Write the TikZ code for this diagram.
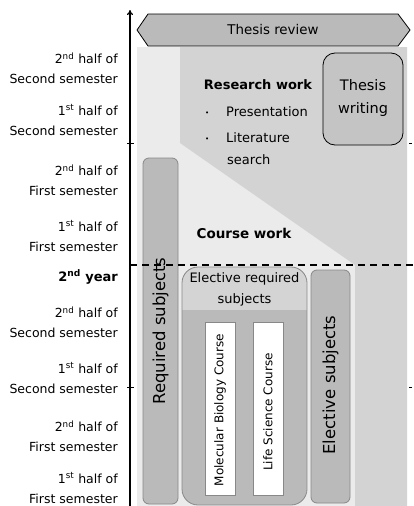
\documentclass[tikz,border=0pt]{standalone}
\usepackage{fontspec}
\setmainfont{DejaVu Sans}
\usetikzlibrary{arrows.meta}

\definecolor{bglight}{HTML}{EBEBEB}
\definecolor{bgmid}{HTML}{D3D3D3}
\definecolor{boxgray}{HTML}{BABABA}
\definecolor{boxedge}{HTML}{888888}
\definecolor{headgray}{HTML}{D4D4D4}
\definecolor{thesisgray}{HTML}{C4C4C4}

\newcommand{\itemdot}{\makebox[21pt][l]{\fontsize{7}{8}\selectfont\raisebox{1pt}{\textbullet}}}

\begin{document}
\begin{tikzpicture}[x=1pt,y=-1pt,
  lbl/.style={anchor=east,align=right,inner sep=0pt,font=\fontsize{12.5}{20}\selectfont},
  item/.style={anchor=west,inner sep=0pt,font=\fontsize{13}{16}\selectfont},
  subj/.style={draw=boxedge,fill=boxgray,line width=0.8pt,rounded corners=6pt},
  course/.style={draw=boxedge,fill=white,line width=0.8pt},
  vtext/.style={rotate=90,inner sep=0pt}]
\useasboundingbox (0,0) rectangle (414,506);
% background areas
\fill[bglight] (137,47) rectangle (407,506);
\fill[bgmid] (180,47) -- (407,47) -- (407,506) -- (355,506) -- (355,265) -- (180,143) -- cycle;
% thesis review banner
\draw[fill=boxgray,line width=0.8pt] (137,30) -- (148,14) -- (398,14) -- (410,30) -- (398,46) -- (148,46) -- cycle;
\node[font=\fontsize{13.4}{16}\selectfont] (review) at (273,30) {Thesis review};
% research work
\node[font=\bfseries\fontsize{13}{16}\selectfont] (research) at (258,85) {Research work};
\node[item] (pres) at (205,112) {\itemdot Presentation};
\node[item] (lit) at (205,138) {\itemdot Literature};
\node[item] (search) at (227,160) {search};
\draw[fill=thesisgray,line width=0.8pt,rounded corners=12pt] (323,53) rectangle (403,145);
\node[align=center,font=\fontsize{14.5}{23}\selectfont] (writing) at (363,98) {Thesis\\writing};
% course work
\node[font=\bfseries\fontsize{13.5}{16}\selectfont] (course) at (244,233) {Course work};
% subject boxes
\draw[subj] (143,158) rectangle (178,504);
\node[vtext,font=\fontsize{16.5}{18}\selectfont] (req) at (160.5,331) {Required subjects};
\begin{scope}
  \clip[rounded corners=16pt] (182,267) rectangle (307,505);
  \fill[boxgray] (182,267) rectangle (307,505);
  \fill[headgray] (182,267) rectangle (307,310);
\end{scope}
\draw[draw=boxedge,line width=0.8pt,rounded corners=16pt] (182,267) rectangle (307,505);
\node[align=center,font=\fontsize{13}{21}\selectfont] (elreq) at (244.5,289) {Elective required\\subjects};
\draw[course] (205,322) rectangle (235,495);
\node[vtext,font=\fontsize{12}{14}\selectfont] (molbio) at (220,410) {Molecular Biology Course};
\draw[course] (253,322) rectangle (283,495);
\node[vtext,font=\fontsize{12}{14}\selectfont] (life) at (268,412) {Life Science Course};
\draw[subj] (311,270) rectangle (350,503);
\node[vtext,font=\fontsize{16.5}{18}\selectfont] (elect) at (330.5,385) {Elective subjects};
% time axis
\coordinate (axb) at (130,506);
\coordinate (axt) at (130,10);
\draw[line width=1.2pt,-{To[length=5pt,width=6pt]}] (axb) -- (axt);
\foreach \y in {143,387}{
  \draw[line width=0.8pt] (127,\y) -- (134,\y);
  \draw[line width=0.8pt] (409,\y) -- (412,\y);
}
\draw[line width=1.6pt,dash pattern=on 7pt off 5pt] (130,265) -- (414,265);
% period labels
\node[lbl] (s4b) at (118,68) {2\textsuperscript{nd} half of\\Second semester};
\node[lbl] (s4a) at (118,120) {1\textsuperscript{st} half of\\Second semester};
\node[lbl] (s3b) at (118,180) {2\textsuperscript{nd} half of\\First semester};
\node[lbl] (s3a) at (118,236) {1\textsuperscript{st} half of\\First semester};
\node[lbl,font=\bfseries\fontsize{13}{16}\selectfont] (year2) at (118,277) {2\textsuperscript{nd} year};
\node[lbl] (s2b) at (118,322) {2\textsuperscript{nd} half of\\Second semester};
\node[lbl] (s2a) at (118,378) {1\textsuperscript{st} half of\\Second semester};
\node[lbl] (s1b) at (118,436) {2\textsuperscript{nd} half of\\First semester};
\node[lbl] (s1a) at (118,488) {1\textsuperscript{st} half of\\First semester};
\end{tikzpicture}
\end{document}
